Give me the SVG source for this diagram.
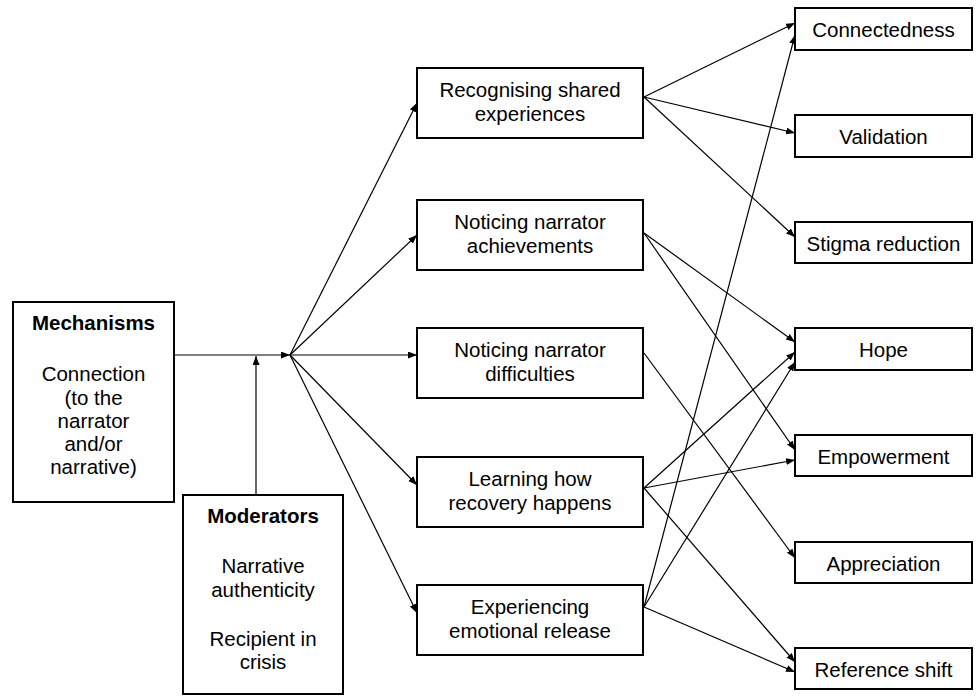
<svg xmlns="http://www.w3.org/2000/svg" width="978" height="696" viewBox="0 0 978 696">
<defs>
<marker id="ah" markerUnits="userSpaceOnUse" markerWidth="10" markerHeight="8" refX="9" refY="3.5" orient="auto">
<path d="M0,0 L9,3.5 L0,7 z" fill="#000"/>
</marker>
<style>
.box{fill:#fff;stroke:#000;stroke-width:2}
.t{font-family:"Liberation Sans",Arial,sans-serif;font-size:20.5px;fill:#000;text-anchor:middle}
.b{font-weight:bold}
.c line{stroke:#000;stroke-width:1.2;marker-end:url(#ah)}
</style>
</defs>
<rect width="978" height="696" fill="#fff"/>
<g class="c" id="connectors">
<line x1="174" y1="355" x2="290" y2="355"/>
<line x1="256" y1="495" x2="256" y2="356"/>
<line x1="290" y1="355" x2="417" y2="103"/>
<line x1="290" y1="355" x2="417" y2="235"/>
<line x1="290" y1="355" x2="417" y2="355"/>
<line x1="290" y1="355" x2="417" y2="485"/>
<line x1="290" y1="355" x2="417" y2="613"/>
<line x1="644" y1="97" x2="795" y2="23"/>
<line x1="644" y1="97" x2="795" y2="133"/>
<line x1="644" y1="97" x2="795" y2="237"/>
<line x1="644" y1="233" x2="795" y2="342"/>
<line x1="644" y1="233" x2="795" y2="450"/>
<line x1="644" y1="353" x2="795" y2="558"/>
<line x1="644" y1="488" x2="795" y2="352"/>
<line x1="644" y1="488" x2="795" y2="460"/>
<line x1="644" y1="488" x2="795" y2="662"/>
<line x1="644" y1="607" x2="795" y2="35"/>
<line x1="644" y1="607" x2="795" y2="362"/>
<line x1="644" y1="607" x2="795" y2="672"/>
</g>
<g id="mechanisms">
<rect class="box" x="13" y="302" width="161" height="200"/>
<text class="t b" x="93.5" y="330">Mechanisms</text>
<text class="t" x="93.5" y="381">Connection</text>
<text class="t" x="93.5" y="404.5">(to the</text>
<text class="t" x="93.5" y="427.5">narrator</text>
<text class="t" x="93.5" y="451">and/or</text>
<text class="t" x="93.5" y="474">narrative)</text>
</g>
<g id="moderators">
<rect class="box" x="183" y="495" width="160" height="199"/>
<text class="t b" x="263" y="523">Moderators</text>
<text class="t" x="263" y="573">Narrative</text>
<text class="t" x="263" y="596.5">authenticity</text>
<text class="t" x="263" y="645.5">Recipient in</text>
<text class="t" x="263" y="669">crisis</text>
</g>
<g id="recognising">
<rect class="box" x="417" y="68" width="226" height="70"/>
<text class="t" x="530" y="96.5">Recognising shared</text>
<text class="t" x="530" y="121">experiences</text>
</g>
<g id="achievements">
<rect class="box" x="417" y="200" width="226" height="70"/>
<text class="t" x="530" y="228.5">Noticing narrator</text>
<text class="t" x="530" y="253">achievements</text>
</g>
<g id="difficulties">
<rect class="box" x="417" y="328" width="226" height="70"/>
<text class="t" x="530" y="356.5">Noticing narrator</text>
<text class="t" x="530" y="381">difficulties</text>
</g>
<g id="learning">
<rect class="box" x="417" y="457" width="226" height="70"/>
<text class="t" x="530" y="485.5">Learning how</text>
<text class="t" x="530" y="510">recovery happens</text>
</g>
<g id="experiencing">
<rect class="box" x="417" y="585" width="226" height="70"/>
<text class="t" x="530" y="613.5">Experiencing</text>
<text class="t" x="530" y="638">emotional release</text>
</g>
<g id="connectedness">
<rect class="box" x="795" y="8" width="177" height="42"/>
<text class="t" x="883.5" y="37">Connectedness</text>
</g>
<g id="validation">
<rect class="box" x="795" y="115" width="177" height="42"/>
<text class="t" x="883.5" y="144">Validation</text>
</g>
<g id="stigma">
<rect class="box" x="795" y="222" width="177" height="41"/>
<text class="t" x="883.5" y="251">Stigma reduction</text>
</g>
<g id="hope">
<rect class="box" x="795" y="328" width="177" height="42"/>
<text class="t" x="883.5" y="357">Hope</text>
</g>
<g id="empowerment">
<rect class="box" x="795" y="435" width="177" height="41"/>
<text class="t" x="883.5" y="464">Empowerment</text>
</g>
<g id="appreciation">
<rect class="box" x="795" y="542" width="177" height="41"/>
<text class="t" x="883.5" y="571">Appreciation</text>
</g>
<g id="reference">
<rect class="box" x="795" y="648" width="177" height="41"/>
<text class="t" x="883.5" y="677">Reference shift</text>
</g>
</svg>
